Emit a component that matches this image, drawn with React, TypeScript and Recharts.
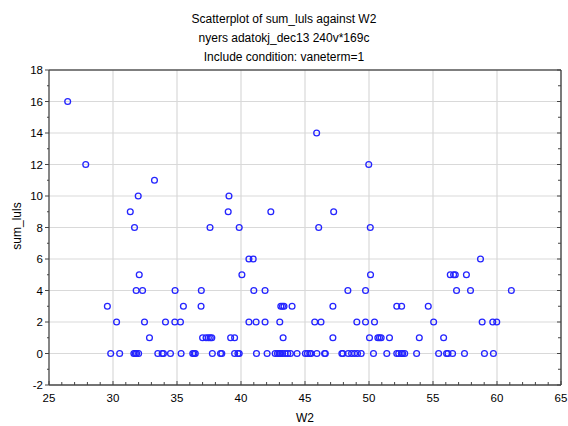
import { ScatterChart, Scatter, XAxis, YAxis, CartesianGrid } from 'recharts'

// sum_luls levels and the W2 values observed at each level
const sumLulsLevels = [16, 14, 12, 11, 10, 9, 8, 6, 5, 4, 3, 2, 1, 0]
const w2ByLevel: number[][] = [
  [26.46],
  [45.91],
  [27.87, 49.98],
  [33.24],
  [31.97, 39.06],
  [31.35, 39.0, 42.33, 47.24],
  [31.68, 37.58, 39.86, 46.07, 50.1],
  [40.62, 40.95, 58.71],
  [32.05, 40.07, 50.12, 56.35, 56.61, 56.74, 57.61],
  [31.81, 32.31, 34.85, 36.9, 41.0, 41.88, 48.35, 49.73, 56.84, 57.93, 61.12],
  [29.56, 35.5, 36.88, 43.11, 43.24, 43.36, 43.99, 47.18, 52.17, 52.55, 54.63],
  [30.28, 32.46, 34.1, 34.83, 35.27, 40.62, 41.18, 41.88, 43.03, 45.76, 46.25, 49.05, 49.73, 50.43, 55.05, 58.84, 59.67, 59.98],
  [32.85, 37.0, 37.27, 37.45, 37.6, 37.72, 39.19, 39.5, 43.29, 47.18, 50.04, 50.69, 50.82, 50.95, 51.6, 53.93, 55.83],
  [29.82, 30.52, 31.63, 31.74, 31.84, 32.0, 33.5, 33.84, 33.94, 34.49, 35.32, 36.23, 36.33, 36.43, 37.76, 38.4, 38.5,
    39.5, 39.76, 39.86, 41.21, 42.04, 42.67, 42.85, 42.98, 43.09, 43.24, 43.44, 43.65, 43.86, 44.38, 45.03, 45.19,
    45.37, 45.47, 45.93, 46.53, 46.59, 47.88, 47.96, 48.38, 48.64, 48.87, 49.1, 49.39, 50.35, 51.39, 52.17, 52.32,
    52.53, 52.63, 52.79, 53.72, 55.44, 56.06, 56.17, 56.53, 57.46, 59.02, 59.72],
]

const xTicks = Array.from({ length: 41 }, (_, i) => 25 + i)
const yTicks = Array.from({ length: 21 }, (_, i) => -2 + i)
const xGrid = [30, 35, 40, 45, 50, 55, 60]
const yGrid = [0, 2, 4, 6, 8, 10, 12, 14, 16]

const titleLines = [
  'Scatterplot of sum_luls against W2',
  'nyers adatokj_dec13 240v*169c',
  'Include condition: vaneterm=1',
]

const points = sumLulsLevels.flatMap((lvl, i) => w2ByLevel[i].map((w2) => ({ w2, sumLuls: lvl })))

const FONT = '"Liberation Sans", Arial, sans-serif'
const AXIS = '#444'

function BottomTick({ x, y, payload }: any) {
  const major = payload.value % 5 === 0
  return (
    <g>
      <line x1={x} x2={x} y1={y} y2={y - (major ? 4 : 3)} stroke={AXIS} />
      {major && (
        <text x={x} y={y + 17} textAnchor="middle" fontSize={11.5} fontFamily={FONT} fill="#000">
          {payload.value}
        </text>
      )}
    </g>
  )
}

function TopTick({ x, y, payload }: any) {
  const major = payload.value % 5 === 0
  return <line x1={x} x2={x} y1={y} y2={y + (major ? 4 : 3)} stroke={AXIS} />
}

function LeftTick({ x, y, payload }: any) {
  const major = payload.value % 2 === 0
  return (
    <g>
      <line x1={x} x2={x - (major ? 4 : 2)} y1={y} y2={y} stroke={AXIS} />
      {major && (
        <text x={x - 6} y={y + 4} textAnchor="end" fontSize={11.5} fontFamily={FONT} fill="#000">
          {payload.value}
        </text>
      )}
    </g>
  )
}

function RightTick({ x, y, payload }: any) {
  const major = payload.value % 2 === 0
  return <line x1={x} x2={x - (major ? 4 : 3)} y1={y} y2={y} stroke={AXIS} />
}

function Ring({ cx, cy }: any) {
  return <circle cx={cx} cy={cy} r={2.9} fill="none" stroke="#2424ff" strokeWidth={1.3} />
}

export default function App() {
  return (
    <div style={{ position: 'absolute', left: 0, top: 0, width: 568, height: 426, background: '#fff', fontFamily: FONT }}>
      {titleLines.map((t, i) => (
        <div
          key={t}
          style={{ position: 'absolute', left: 0, width: 568, top: 12 + i * 19, textAlign: 'center', fontSize: 12, lineHeight: '14px' }}
        >
          {t}
        </div>
      ))}
      <ScatterChart width={568} height={426} margin={{ top: 69, right: 6, bottom: 0, left: 0 }}>
        <CartesianGrid
          xAxisId="b"
          yAxisId="l"
          stroke="#d9d9d9"
          strokeWidth={1.2}
          verticalValues={xGrid}
          horizontalValues={yGrid}
        />
        <XAxis
          xAxisId="b"
          dataKey="w2"
          type="number"
          domain={[25, 65]}
          ticks={xTicks}
          interval={0}
          height={41}
          tickSize={0}
          tickMargin={0}
          tickLine={false}
          tick={<BottomTick />}
          axisLine={{ stroke: AXIS, strokeWidth: 1.3 }}
          allowDataOverflow
        />
        <XAxis
          xAxisId="t"
          orientation="top"
          type="number"
          domain={[25, 65]}
          ticks={xTicks}
          interval={0}
          height={1}
          tickSize={0}
          tickMargin={0}
          tickLine={false}
          tick={<TopTick />}
          axisLine={{ stroke: '#555', strokeWidth: 1.6 }}
          allowDataOverflow
        />
        <YAxis
          yAxisId="l"
          dataKey="sumLuls"
          type="number"
          domain={[-2, 18]}
          ticks={yTicks}
          interval={0}
          width={49}
          tickSize={0}
          tickMargin={0}
          tickLine={false}
          tick={<LeftTick />}
          axisLine={{ stroke: AXIS, strokeWidth: 1.3 }}
          allowDataOverflow
        />
        <YAxis
          yAxisId="r"
          orientation="right"
          type="number"
          domain={[-2, 18]}
          ticks={yTicks}
          interval={0}
          width={1}
          tickSize={0}
          tickMargin={0}
          tickLine={false}
          tick={<RightTick />}
          axisLine={{ stroke: '#333', strokeWidth: 1.3 }}
          allowDataOverflow
        />
        <Scatter xAxisId="b" yAxisId="l" data={points} shape={<Ring />} isAnimationActive={false} />
      </ScatterChart>
      <div style={{ position: 'absolute', left: 0, width: 610, top: 411, textAlign: 'center', fontSize: 12 }}>W2</div>
      <div
        style={{
          position: 'absolute',
          left: 17,
          top: 226,
          fontSize: 12,
          whiteSpace: 'nowrap',
          transform: 'translate(-50%, -50%) rotate(-90deg)',
        }}
      >
        sum_luls
      </div>
    </div>
  )
}
